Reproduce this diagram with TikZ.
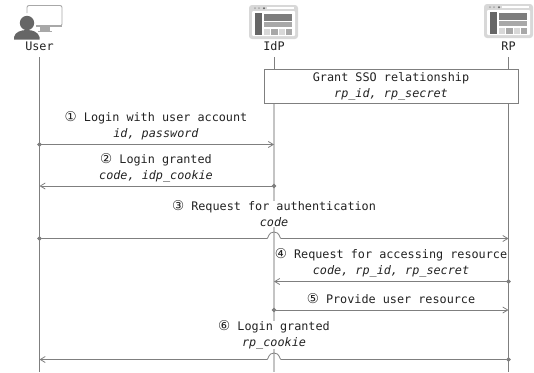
\documentclass[tikz,border=0pt]{standalone}
\usepackage{fontspec}
\setmainfont{DejaVu Sans Mono}
\newfontfamily\circfont{DejaVu Sans}
\usetikzlibrary{arrows.meta}
\definecolor{icondark}{HTML}{666666}
\definecolor{iconmid}{HTML}{A8A8A8}
\definecolor{iconlight}{HTML}{D8D8D8}
\definecolor{linedark}{HTML}{7F7F7F}
\definecolor{linelight}{HTML}{C4C4C4}
\definecolor{inkdark}{HTML}{222222}
\tikzset{
    actor/.style={font=\fontsize{11.8}{14}\selectfont, text=inkdark, inner sep=0pt, text height=8pt, text depth=1pt},
    lifeline/.style={draw=linedark, line width=0.8pt},
    lifelight/.style={draw=linelight, line width=1.5pt},
    message/.style={font=\fontsize{11.8}{16}\selectfont, text=inkdark, align=center, inner sep=0pt},
    arrowline/.style={draw=linedark, line width=0.8pt, shorten <=-2.25pt, {Circle[length=4.5pt]}-{Straight Barb[length=5pt,width=6pt]}},
    grantbox/.style={draw=linedark, line width=0.8pt, fill=white, message, minimum width=254pt, minimum height=34pt}
}
% browser window icon, #1 is the top left corner
\newcommand{\siteicon}[1]{
    \begin{scope}[shift={(#1)}]
        \fill [iconlight, rounded corners=3pt] (0,0) rectangle ++(49,34) ;
        \fill [white, rounded corners=1pt] (3,6) rectangle ++(43,25) ;
        \fill [white] (18,2.4) rectangle ++(27,2) ;
        \fill [icondark] (6,8) rectangle ++(7,22) ;
        \fill [icondark!85!white] (15,8.5) rectangle ++(28,7) ;
        \fill [iconmid] (15,16.5) rectangle ++(28,5.5) ;
        \foreach \i/\c in {0/iconlight,7.3/iconmid,14.6/iconlight,21.9/iconmid} {
            \fill [\c] (15+\i,23.5) rectangle ++(6.2,6.5) ;
        }
        \fill [iconmid] (6,3.2) circle (1) ;
        \fill [iconmid] (10,3.2) circle (1) ;
        \fill [icondark] (15,3.2) circle (1.1) ;
    \end{scope}
}
\newcommand{\circnum}[1]{{\circfont\fontsize{13.5}{16}\selectfont #1}}
\begin{document}
\begin{tikzpicture}[x=1pt, y=-1pt]
    \useasboundingbox (0,0) rectangle (534,372) ;

    % user icon
    \draw [iconmid, line width=0.9pt, rounded corners=2pt] (27,13) -- (27,5.5) -- (62,5.5) -- (62,26) -- (36,26) ;
    \fill [iconmid] (36,25) rectangle (62,27) ;
    \fill [iconmid] (40,27) rectangle (50,30.5) ;
    \fill [iconmid] (38,30.5) rectangle (52,32) ;
    \fill [white] (27,23) circle (9) ;
    \fill [icondark] (27,23) circle (7.2) ;
    \fill [icondark] (14,39.5) -- (14,37) .. controls (15,32) and (21,30) .. (27,30) .. controls (33,30) and (38,32) .. (39.5,37) -- (39.5,39.5) -- cycle ;

    \siteicon{249,5}
    \siteicon{484,4}

    \node [actor] (user) at (39.5,47) {User} ;
    \node [actor] (idp) at (274,47) {IdP} ;
    \node [actor] (rp) at (508.5,47) {RP} ;

    \coordinate (userend) at (39.5,372) ;
    \coordinate (idpmid) at (274,80) ;
    \coordinate (idpend) at (274,372) ;
    \coordinate (rpend) at (508.5,372) ;

    \draw [lifeline] (39.5,57) -- (userend) ;
    \draw [lifeline] (508.5,57) -- (rpend) ;
    \draw [lifeline] (274,57) -- (idpmid) ;
    \draw [lifelight] (idpmid) -- (idpend) ;

    \node [grantbox] (grant) at (391,86) {Grant SSO relationship\\\textit{rp\_id, rp\_secret}} ;

    \node [message] (msga) at (156,126) {\circnum{①} Login with user account\\\textit{id, password}} ;
    \node [message] (msgb) at (156,168) {\circnum{②} Login granted\\\textit{code, idp\_cookie}} ;
    \node [message, fill=white] (msgc) at (274,214) {\circnum{③} Request for authentication\\\textit{code}} ;
    \node [message] (msgd) at (391,263) {\circnum{④} Request for accessing resource\\\textit{code, rp\_id, rp\_secret}} ;
    \node [message] (msge) at (391,299) {\circnum{⑤} Provide user resource} ;
    \node [message, fill=white] (msgf) at (274,335) {\circnum{⑥} Login granted\\\textit{rp\_cookie}} ;

    \coordinate (ua) at (39.5,144.5) ;
    \coordinate (ia) at (274,144.5) ;
    \coordinate (ib) at (274,186) ;
    \coordinate (ub) at (39.5,186) ;
    \coordinate (uc) at (39.5,238.5) ;
    \coordinate (rc) at (508.5,238.5) ;
    \coordinate (rd) at (508.5,281.5) ;
    \coordinate (id) at (274,281.5) ;
    \coordinate (ie) at (274,310) ;
    \coordinate (re) at (508.5,310) ;
    \coordinate (rf) at (508.5,359.5) ;
    \coordinate (uf) at (39.5,359.5) ;

    \draw [arrowline] (ua) -- (ia) ;
    \draw [arrowline] (ib) -- (ub) ;
    \draw [arrowline] (uc) -- (267,238.5) .. controls (268.5,238.5) and (268,232) .. (274,232) .. controls (280,232) and (279.5,238.5) .. (281,238.5) -- (rc) ;
    \draw [arrowline] (rd) -- (id) ;
    \draw [arrowline] (ie) -- (re) ;
    \draw [arrowline] (rf) -- (281,359.5) .. controls (279.5,359.5) and (280,353) .. (274,353) .. controls (268,353) and (268.5,359.5) .. (267,359.5) -- (uf) ;
\end{tikzpicture}
\end{document}
